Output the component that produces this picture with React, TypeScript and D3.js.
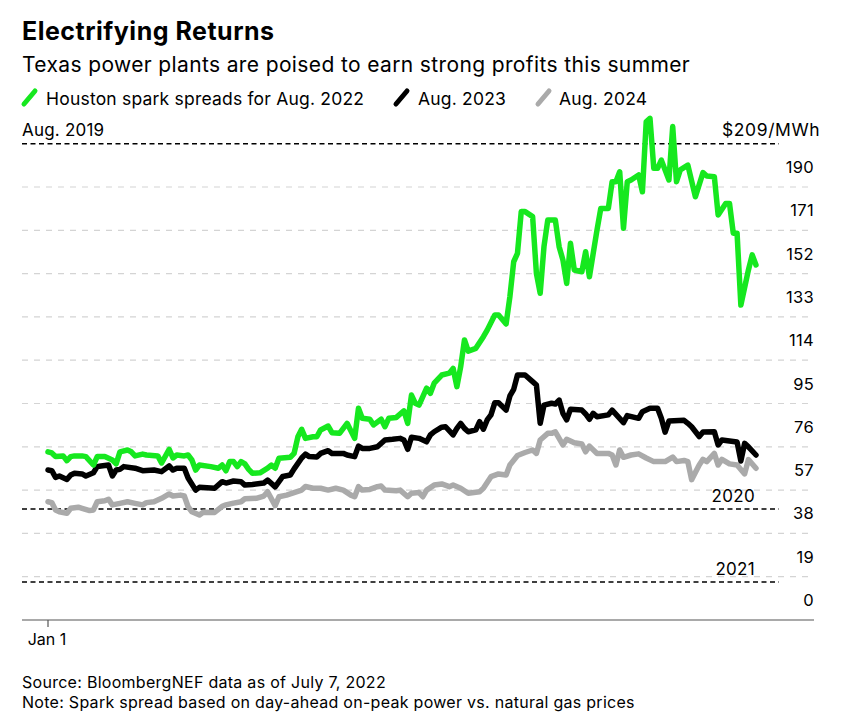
import React from "react";
import * as d3 from "d3";

const greenDays = [0,1,2,4,5,6,7,9,10,12,13,15,17,18,19,21,22,23,25,26,29,30,32,33,34,36,37,38,39,40,43,45,46,47,48,49,50,51,52,53,54,56,58,59,60,61,64,65,66,67,68,70,71,72,74,75,77,79,81,82,83,85,86,88,89,90,92,94,95,96,97,98,100,101,102,104,106,107,108,109,110,111,113,115,116,118,119,121,122,123,124,125,126,128,129,130,131,132,134,135,136,137,138,139,141,142,143,145,146,148,149,150,151,152,153,154,156,157,158,159,160,161,162,164,165,166,167,169,171,173,174,176,177,179,180,181,182,183,185,186,187];
const greenVals = [73.8,73.3,71.7,72.0,69.9,71.7,72.0,72.0,71.7,68.0,71.7,71.7,70.2,68.5,73.8,74.6,73.8,72.0,72.8,72.4,72.0,68.9,74.9,71.1,72.4,72.0,72.4,70.2,65.8,68.0,67.3,66.6,68.0,65.5,69.5,69.5,67.3,69.5,68.5,66.1,64.4,64.6,66.6,68.0,66.6,71.0,71.4,73.1,80.4,83.7,79.7,80.4,80.4,83.4,85.1,82.2,81.9,86.3,79.7,92.9,88.5,88.1,85.6,88.1,84.8,88.5,88.9,91.8,86.3,98.7,95.1,94.3,101.7,99.5,103.9,107.5,108.3,110.4,102.4,111.1,122.9,118.0,119.2,124.3,127.2,133.8,133.8,129.9,141.9,157.2,160.9,179.2,179.2,177.0,152.1,143.4,163.8,175.5,175.5,163.8,158.0,147.7,165.3,153.6,152.8,161.6,150.6,171.1,180.6,180.6,192.3,192.3,196.7,171.9,192.3,193.1,195.3,187.9,218.6,220.1,198.2,198.2,201.8,193.1,216.5,192.3,197.5,199.6,185.7,196.3,194.8,194.5,177.7,182.8,182.8,169.7,169.7,138.2,153.6,160.2,155.8];

const blackDays = [0,1,2,3,5,6,7,9,10,12,13,14,16,17,18,19,20,23,25,28,30,32,33,34,36,37,39,40,44,46,47,49,51,52,54,57,58,60,62,64,65,67,68,69,71,72,74,75,78,79,81,82,83,85,87,89,91,93,94,95,96,98,100,101,102,104,105,107,108,109,110,111,113,114,115,116,117,118,119,121,122,123,124,126,128,129,130,131,133,134,135,136,137,138,141,142,143,144,145,148,149,152,153,156,157,159,161,162,163,164,168,169,170,172,173,176,177,178,182,183,184,185,187];
const blackVals = [65.8,65.5,62.6,63.2,61.7,63.6,64.4,64.1,63.2,64.6,67.3,67.6,68.0,63.2,65.8,66.1,67.3,66.6,65.5,65.8,65.1,67.6,65.8,66.6,66.6,62.3,57.0,58.2,57.8,60.7,60.1,61.0,60.7,59.2,59.5,60.1,61.4,58.4,63.0,63.6,66.3,71.1,72.8,71.7,71.5,73.1,74.3,73.1,73.1,72.4,71.7,76.3,75.3,75.3,76.0,79.0,79.3,79.7,79.0,74.9,80.2,79.7,78.2,81.2,82.6,84.6,84.8,81.2,84.1,86.3,84.1,82.6,83.4,87.0,83.7,87.8,90.0,95.3,95.3,92.1,98.3,101.2,107.5,107.5,104.6,103.1,86.3,94.3,95.1,94.8,96.5,90.7,87.8,92.5,92.1,90.4,88.1,90.7,89.2,90.0,92.1,86.6,89.7,88.5,91.4,92.9,92.9,88.5,82.4,87.3,87.6,86.3,84.8,80.5,82.5,82.6,76.8,79.0,78.1,69.8,77.5,76.0,72.4];

const grayDays = [0,1,2,3,5,6,8,9,11,12,13,15,16,17,19,21,23,25,26,28,30,32,33,35,36,37,38,40,41,44,46,47,49,51,52,55,57,58,60,61,63,65,67,68,70,72,74,76,78,80,81,82,83,85,87,88,89,92,93,95,96,98,99,100,102,104,106,107,109,111,114,115,117,119,121,122,124,126,128,129,130,132,133,134,136,137,139,141,142,143,145,148,149,150,151,152,154,156,158,160,163,165,166,168,169,170,172,173,174,176,177,178,180,182,184,185,187];
const grayVals = [51.9,51.5,48.3,47.5,46.8,49.0,49.5,49.0,48.0,48.3,51.9,52.3,53.0,50.5,51.2,51.9,51.2,50.5,51.5,51.9,53.4,55.3,54.4,54.8,54.4,49.7,47.5,46.1,47.3,47.2,49.9,50.5,51.3,51.9,53.2,53.4,54.4,56.3,50.2,54.1,54.8,55.9,57.0,58.6,57.8,57.8,57.0,57.8,57.0,54.8,54.1,58.5,57.0,57.3,58.5,58.8,57.0,56.7,57.0,54.1,55.6,55.9,54.1,57.0,59.2,59.7,58.5,59.2,57.8,55.6,56.3,57.8,62.9,64.1,63.6,68.0,72.2,73.5,74.6,73.1,79.0,81.9,81.9,82.6,76.8,79.3,77.8,77.2,73.8,76.3,73.1,73.1,72.4,68.0,74.6,71.4,72.4,72.9,71.1,69.5,69.5,71.5,69.5,70.0,69.5,61.6,68.0,70.5,69.5,73.1,68.0,70.5,68.5,68.0,64.1,70.4,66.6];

const yTicks = [0, 19, 38, 57, 76, 95, 114, 133, 152, 171, 190];
const refValues = [209, 48.7, 16.7];
const refLabels = ["Aug. 2019", "2020", "2021"];
const legendLabels = ["Houston spark spreads for Aug. 2022", "Aug. 2023", "Aug. 2024"];
const seriesColors = ["#16e81f", "#000000", "#aaaaaa"];

const FONT = "Inter, 'Liberation Sans', Arial, sans-serif";

export default function App() {
  const W = 849, H = 724;
  const start = new Date(2022, 0, 1);
  const toDate = (d: number) => new Date(2022, 0, 1 + d);
  const x = d3.scaleTime().domain([start, toDate(187)]).range([48, 756]);
  const y = d3.scaleLinear().domain([0, 209]).range([620, 143.7]);

  const line = d3
    .line<[number, number]>()
    .x((p) => x(toDate(p[0])))
    .y((p) => y(p[1]))
    .curve(d3.curveLinear);

  const series = [
    { days: grayDays, vals: grayVals, color: seriesColors[2] },
    { days: blackDays, vals: blackVals, color: seriesColors[1] },
    { days: greenDays, vals: greenVals, color: seriesColors[0] },
  ];

  const swatchX = [21, 393, 535];
  const legendTextX = [46, 418, 559];

  return (
    <svg width={W} height={H} style={{ display: "block", margin: "-8px", background: "#fff" }} fontFamily={FONT}>
      <text x={22} y={40} fontSize={25} fontWeight="bold" fill="#000" letterSpacing={0.5}>Electrifying Returns</text>
      <text x={22} y={72} fontSize={21} fill="#000" letterSpacing={0.37}>Texas power plants are poised to earn strong profits this summer</text>

      {legendLabels.map((l, i) => (
        <g key={l}>
          <line x1={swatchX[i] + 3} y1={104} x2={swatchX[i] + 14} y2={91} stroke={seriesColors[i]} strokeWidth={5} strokeLinecap="round" />
          <text x={legendTextX[i]} y={105} fontSize={17.5} fill="#000" letterSpacing={0.2}>{l}</text>
        </g>
      ))}

      {yTicks.filter((t) => t > 0).map((t) => (
        <line key={"g" + t} x1={22} x2={810} y1={y(t)} y2={y(t)} stroke="#d4d4d4" strokeWidth={1.2} strokeDasharray="6,6" />
      ))}
      {yTicks.map((t) => (
        <text key={"t" + t} x={814} y={y(t) - 14} fontSize={16.5} textAnchor="end" fill="#000" letterSpacing={0.3}>{t}</text>
      ))}

      {refValues.map((v, i) => (
        <line key={"r" + i} x1={22} x2={779} y1={y(v)} y2={y(v)} stroke="#000" strokeWidth={1.5} strokeDasharray="5,3.5" />
      ))}
      <text x={22} y={136} fontSize={17} fill="#000" letterSpacing={0.2}>{refLabels[0]}</text>
      <text x={722} y={136} fontSize={17.5} fill="#000" letterSpacing={0.6}>$209/MWh</text>
      <text x={755} y={y(refValues[1]) - 7} fontSize={17} textAnchor="end" fill="#000" letterSpacing={0.3}>{refLabels[1]}</text>
      <text x={755} y={y(refValues[2]) - 7} fontSize={17} textAnchor="end" fill="#000" letterSpacing={0.3}>{refLabels[2]}</text>

      <line x1={22} x2={814} y1={620} y2={620} stroke="#555" strokeWidth={1.2} />
      <line x1={x(start)} x2={x(start)} y1={620} y2={627} stroke="#555" strokeWidth={1.2} />
      <text x={x(start) - 1} y={645} fontSize={16} textAnchor="middle" fill="#000">Jan 1</text>

      {series.map((s, i) => (
        <path
          key={i}
          d={line(s.days.map((d, j) => [d, s.vals[j]] as [number, number])) || ""}
          fill="none"
          stroke={s.color}
          strokeWidth={5.5}
          strokeLinejoin="round"
          strokeLinecap="round"
        />
      ))}

      <text x={22} y={688} fontSize={16} fill="#000" letterSpacing={0.28}>Source: BloombergNEF data as of July 7, 2022</text>
      <text x={22} y={708} fontSize={16} fill="#000" letterSpacing={0.28}>Note: Spark spread based on day-ahead on-peak power vs. natural gas prices</text>
    </svg>
  );
}
